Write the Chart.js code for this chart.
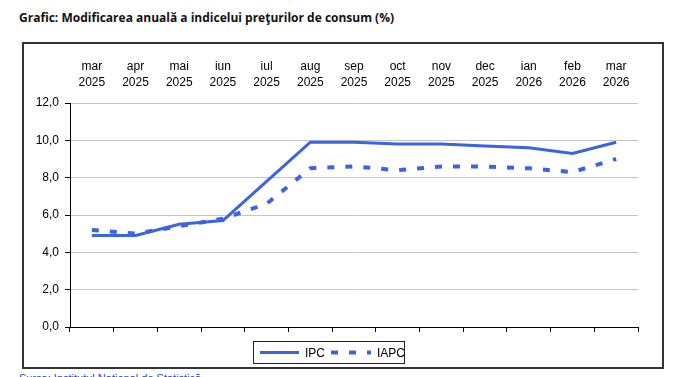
<!DOCTYPE html>
<html><head><meta charset="utf-8">
<script src="https://cdn.jsdelivr.net/npm/chart.js@4/dist/chart.umd.min.js"></script>
<style>
html,body{margin:0;padding:0;background:#fff;width:675px;height:377px;overflow:hidden;position:relative}
#title{position:absolute;left:19px;top:9px;font:bold 12px "Open Sans",sans-serif;color:#111;white-space:nowrap}
#frame{position:absolute;left:22px;top:42px;width:638px;height:323px;border:2px solid #333}
#src{position:absolute;left:19px;top:372px;font:11px "Liberation Sans",sans-serif;color:#2244cc;white-space:nowrap}
#wrap{position:absolute;left:0;top:0;width:675px;height:377px}
</style></head><body>
<div id="title">Grafic: Modificarea anuală a indicelui preţurilor de consum (%)</div>
<div id="frame"></div>
<div id="src">Sursa: Institutul Naţional de Statistică</div>
<div id="wrap"><canvas id="c" width="675" height="377"></canvas></div>
<script>
const months = [["mar","2025"],["apr","2025"],["mai","2025"],["iun","2025"],["iul","2025"],["aug","2025"],["sep","2025"],["oct","2025"],["nov","2025"],["dec","2025"],["ian","2026"],["feb","2026"],["mar","2026"]];
const ipc  = [4.9, 4.9, 5.5, 5.7, 7.8, 9.9, 9.9, 9.8, 9.8, 9.7, 9.6, 9.3, 9.9];
const iapc = [5.2, 5.0, 5.4, 5.8, 6.6, 8.5, 8.6, 8.4, 8.6, 8.6, 8.5, 8.3, 9.0];
const yTicks = [0, 2, 4, 6, 8, 10, 12];
const blue = '#3a63e6';
const font = {family: '"Liberation Sans", Arial, sans-serif', size: 12};

const legendPlugin = {
  id: 'boxLegend',
  afterDraw(chart) {
    const ctx = chart.ctx;
    const x0 = 253.5, y0 = 341.5, w = 151, h = 22;
    ctx.save();
    ctx.strokeStyle = '#222'; ctx.lineWidth = 1; ctx.setLineDash([]);
    ctx.strokeRect(x0, y0, w, h);
    const cy = y0 + h/2;
    const items = chart.data.datasets;
    const pos = [[260, 299, 305], [331, 371, 377]];
    items.forEach((ds, i) => {
      ctx.beginPath();
      ctx.strokeStyle = ds.borderColor; ctx.lineWidth = ds.borderWidth;
      ctx.setLineDash(ds.borderDash || []);
      ctx.moveTo(pos[i][0], cy); ctx.lineTo(pos[i][1], cy); ctx.stroke();
      ctx.setLineDash([]);
      ctx.fillStyle = '#000'; ctx.font = '12px "Liberation Sans", Arial, sans-serif';
      ctx.textBaseline = 'middle'; ctx.textAlign = 'left';
      ctx.fillText(ds.label, pos[i][2], cy + 1);
    });
    ctx.restore();
  }
};

new Chart(document.getElementById('c'), {
  type: 'line',
  data: {
    labels: months,
    datasets: [
      {label: 'IPC', data: ipc, borderColor: blue, borderWidth: 3, pointRadius: 0, tension: 0, fill: false, xAxisID: 'x'},
      {label: 'IAPC', data: iapc, borderColor: blue, borderWidth: 4, borderDash: [7, 11], pointRadius: 0, tension: 0, fill: false, xAxisID: 'x'}
    ]
  },
  options: {
    responsive: false, animation: false,
    layout: {padding: {left: 0, top: 0, right: 37, bottom: 0}},
    plugins: {legend: {display: false}, tooltip: {enabled: false}, title: {display: false}},
    scales: {
      x: {
        type: 'category', position: 'bottom', offset: true,
        grid: {offset: true, drawOnChartArea: false, drawTicks: true, tickLength: 5, tickColor: '#000'},
        border: {display: true, color: '#000', width: 1},
        ticks: {display: false},
        afterFit: s => { s.height = 50; }
      },
      x2: {
        type: 'category', position: 'top', offset: true, labels: months,
        grid: {display: false}, border: {display: false},
        ticks: {color: '#000', font: {family: font.family, size: 12, lineHeight: 1.35}, padding: 4, maxRotation: 0, autoSkip: false},
        afterFit: s => { s.height = 103; }
      },
      y: {
        min: 0, max: 12,
        afterBuildTicks: s => { s.ticks = yTicks.map(v => ({value: v})); },
        grid: {color: '#c4c4c4', tickColor: '#000', tickLength: 5, lineWidth: 1},
        border: {display: true, color: '#000', width: 1},
        ticks: {color: '#000', font: font, padding: 6, callback: v => v.toFixed(1).replace('.', ',')},
        afterFit: s => { s.width = 70; }
      }
    }
  },
  plugins: [legendPlugin]
});
</script>
</body></html>
